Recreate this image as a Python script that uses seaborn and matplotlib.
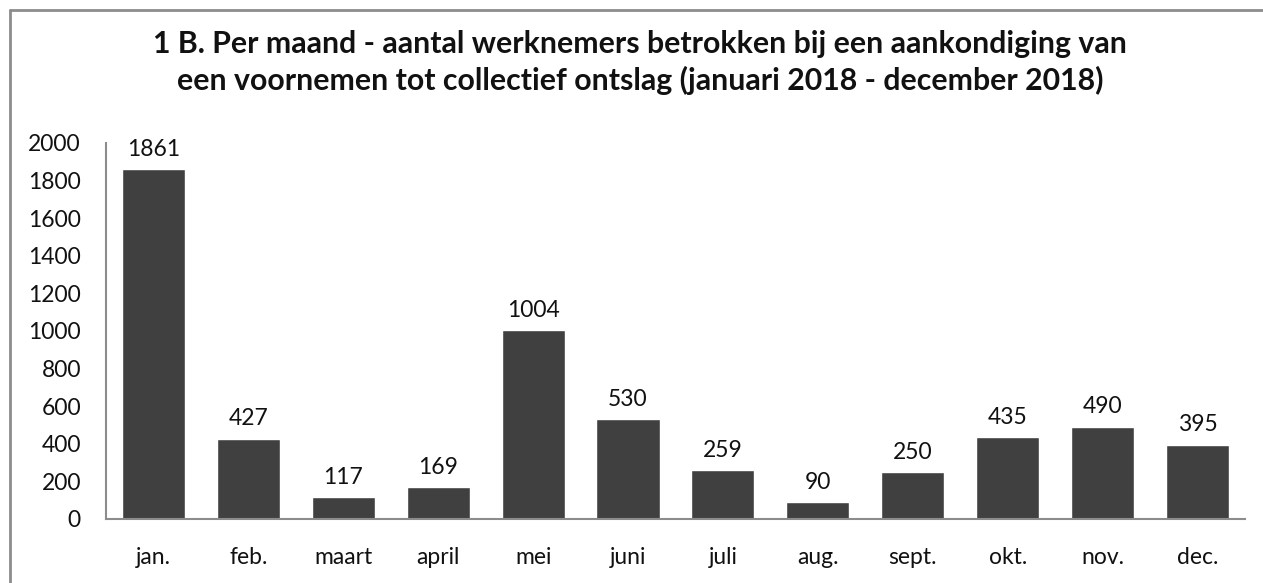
import matplotlib
matplotlib.use("Agg")
import matplotlib.pyplot as plt
import seaborn as sns
import pandas as pd
from matplotlib.lines import Line2D

months = ["jan.", "feb.", "maart", "april", "mei", "juni", "juli", "aug.",
          "sept.", "okt.", "nov.", "dec."]
werknemers = [1861, 427, 117, 169, 1004, 530, 259, 90, 250, 435, 490, 395]
title = ("1 B. Per maand - aantal werknemers betrokken bij een aankondiging van\n"
         "een voornemen tot collectief ontslag (januari 2018 - december 2018)")


def main():
    df = pd.DataFrame({"maand": months, "aantal": werknemers})

    sns.set_style("white")
    plt.rcParams["font.family"] = ["Lato", "DejaVu Sans"]

    fig = plt.figure(figsize=(12.63, 5.83), dpi=100)
    ax = fig.add_axes([0.0839, 0.1098, 0.9018, 0.645])

    sns.barplot(data=df, x="maand", y="aantal", color="#404040", width=0.665,
                saturation=1, ax=ax)

    for i, v in enumerate(werknemers):
        ax.text(i, v + 50, str(v), ha="center", va="bottom", fontsize=16.5,
                color="#111111")

    ax.set_ylim(0, 2000)
    ax.set_xlim(-0.5, len(months) - 0.5)
    ax.set_yticks(range(0, 2001, 200))
    ax.set_xlabel("")
    ax.set_ylabel("")
    ax.tick_params(axis="both", length=0, labelsize=16.5, colors="#111111")
    ax.tick_params(axis="y", pad=18)
    ax.tick_params(axis="x", pad=20)

    for side in ["top", "right"]:
        ax.spines[side].set_visible(False)
    for side in ["left", "bottom"]:
        ax.spines[side].set_color("#8c8c8c")
        ax.spines[side].set_linewidth(1.5)

    fig.text(0.507, 0.892, title, ha="center", va="center", fontsize=21.8,
             fontweight="bold", linespacing=1.33, color="#111111")

    # outer chart border (only top and left visible in the crop)
    fig.add_artist(Line2D([9.5 / 1263, 9.5 / 1263], [0, 1 - 10 / 583],
                          color="#8c8c8c", lw=2, transform=fig.transFigure))
    fig.add_artist(Line2D([9.5 / 1263, 1], [1 - 10 / 583, 1 - 10 / 583],
                          color="#8c8c8c", lw=2, transform=fig.transFigure))

    fig.savefig("out.png", dpi=100)


if __name__ == "__main__":
    main()
